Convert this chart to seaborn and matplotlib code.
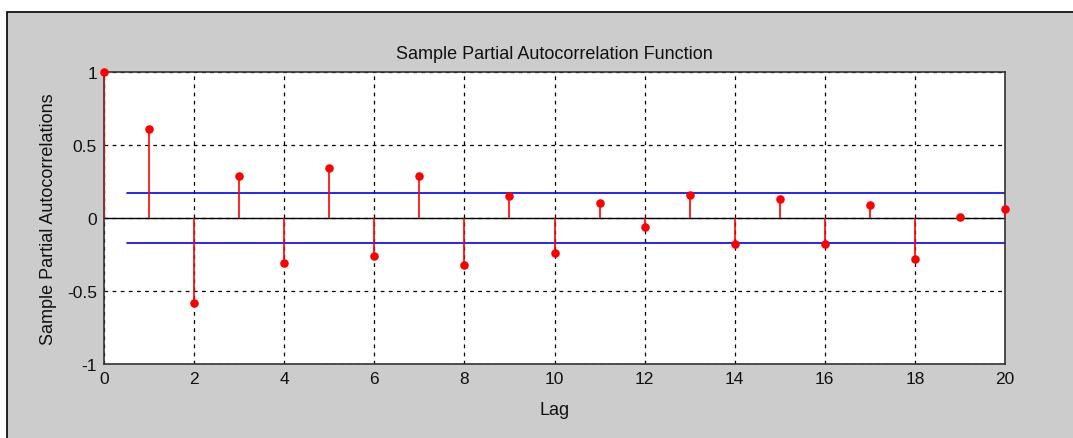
import numpy as np
import matplotlib
matplotlib.use("Agg")
import matplotlib.pyplot as plt
import seaborn as sns
from matplotlib.patches import Rectangle

# --- data ---
lags = list(range(21))
pacf = [1.0, 0.61, -0.58, 0.29, -0.31, 0.34, -0.26, 0.29, -0.32, 0.15, -0.24,
        0.10, -0.06, 0.16, -0.18, 0.13, -0.18, 0.09, -0.28, 0.01, 0.06]
bound = 0.17
x_ticks = [0, 2, 4, 6, 8, 10, 12, 14, 16, 18, 20]
y_ticks = [-1, -0.5, 0, 0.5, 1]
y_ticklabels = ["-1", "-0.5", "0", "0.5", "1"]

sns.set_style("white")
plt.rcParams['font.family'] = ['Liberation Sans', 'DejaVu Sans']

fig = plt.figure(figsize=(10.73, 4.39), dpi=100)
fig.patch.set_facecolor("white")
# gray MATLAB-like panel
fig.patches.append(Rectangle((7 / 1073, -0.1), 1.2, 1 - 13 / 439 + 0.1,
                             transform=fig.transFigure, facecolor="#cccccc",
                             edgecolor="black", linewidth=1.2, zorder=-5))

ax = fig.add_axes([104 / 1073, 74 / 439, 901 / 1073, 292 / 439])
ax.set_zorder(2)
ax.set_facecolor("white")

# grid
for xt in x_ticks:
    ax.axvline(xt, color="black", linestyle=(0, (3, 3.5)), linewidth=0.9, zorder=1)
for yt in y_ticks:
    ax.axhline(yt, color="black", linestyle=(0, (3, 3.5)), linewidth=0.9, zorder=1)

# confidence bounds
ax.plot([0.5, 20], [bound, bound], color="#0000ff", linewidth=1.2, zorder=2)
ax.plot([0.5, 20], [-bound, -bound], color="#0000ff", linewidth=1.2, zorder=2)

# baseline and stems
ax.axhline(0, color="black", linewidth=1.0, zorder=2)
ax.vlines(lags, 0, pacf, color="#ff0000", linewidth=1.2, zorder=3)
sns.scatterplot(x=lags, y=pacf, ax=ax, color="#ff0000", s=38, edgecolor="#ff0000",
                linewidth=0, zorder=4, clip_on=False)

ax.set_xlim(0, 20)
ax.set_ylim(-1, 1)
ax.set_xticks(x_ticks)
ax.set_yticks(y_ticks)
ax.set_yticklabels(y_ticklabels)
ax.tick_params(direction="in", length=0, labelsize=12.5, colors="#111111", pad=5)
for s in ax.spines.values():
    s.set_color("#333333")
    s.set_linewidth(1.2)
    s.set_visible(True)

ax.set_title("Sample Partial Autocorrelation Function", fontsize=13, pad=10,
             color="#111111")
ax.set_xlabel("Lag", fontsize=13, labelpad=11, color="#111111")
ax.set_ylabel("Sample Partial Autocorrelations", fontsize=13, labelpad=7,
              color="#111111")

fig.savefig("out.png", dpi=100, facecolor=fig.get_facecolor())
